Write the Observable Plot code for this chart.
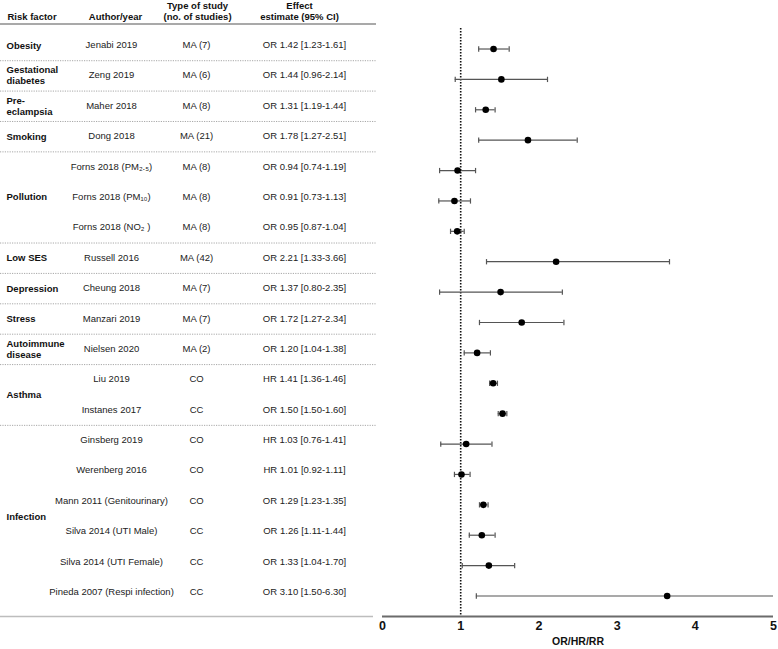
<!DOCTYPE html>
<html>
<head>
<meta charset="utf-8">
<script src="https://cdn.jsdelivr.net/npm/d3@7"></script>
<script src="https://cdn.jsdelivr.net/npm/@observablehq/plot@0.6"></script>
<style>
  html, body { margin: 0; padding: 0; background: #fff; }
  #chart svg { display: block; overflow: visible; }
</style>
</head>
<body>
<div id="chart"></div>
<script>
// ---- data ----
const rowRisk = ["Obesity", "Gestational\ndiabetes", "Pre-\neclampsia", "Smoking",
  "Pollution", "Pollution", "Pollution", "Low SES", "Depression", "Stress",
  "Autoimmune\ndisease", "Asthma", "Asthma",
  "Infection", "Infection", "Infection", "Infection", "Infection", "Infection"];
const rowAuthor = ["Jenabi 2019", "Zeng 2019", "Maher 2018", "Dong 2018",
  "Forns 2018 (PM₂.₅)", "Forns 2018 (PM₁₀)", "Forns 2018 (NO₂ )", "Russell 2016",
  "Cheung 2018", "Manzari 2019", "Nielsen 2020", "Liu 2019", "Instanes 2017",
  "Ginsberg 2019", "Werenberg 2016", "Mann 2011 (Genitourinary)",
  "Silva 2014 (UTI Male)", "Silva 2014 (UTI Female)", "Pineda 2007 (Respi infection)"];
const rowType = ["MA (7)", "MA (6)", "MA (8)", "MA (21)", "MA (8)", "MA (8)", "MA (8)",
  "MA (42)", "MA (7)", "MA (7)", "MA (2)", "CO", "CC", "CO", "CO", "CO", "CC", "CC", "CC"];
const rowEffect = ["OR 1.42 [1.23-1.61]", "OR 1.44 [0.96-2.14]", "OR 1.31 [1.19-1.44]",
  "OR 1.78 [1.27-2.51]", "OR 0.94 [0.74-1.19]", "OR 0.91 [0.73-1.13]", "OR 0.95 [0.87-1.04]",
  "OR 2.21 [1.33-3.66]", "OR 1.37 [0.80-2.35]", "OR 1.72 [1.27-2.34]", "OR 1.20 [1.04-1.38]",
  "HR 1.41 [1.36-1.46]", "OR 1.50 [1.50-1.60]", "HR 1.03 [0.76-1.41]", "HR 1.01 [0.92-1.11]",
  "OR 1.29 [1.23-1.35]", "OR 1.26 [1.11-1.44]", "OR 1.33 [1.04-1.70]", "OR 3.10 [1.50-6.30]"];
// plotted estimates and CI as drawn in the figure
const estimate = [1.42, 1.52, 1.32, 1.86, 0.96, 0.92, 0.955, 2.22, 1.51, 1.78, 1.21,
  1.415, 1.535, 1.07, 1.01, 1.29, 1.27, 1.36, 3.64];
const lower = [1.23, 0.93, 1.19, 1.23, 0.73, 0.72, 0.87, 1.33, 0.73, 1.24, 1.045,
  1.37, 1.48, 0.745, 0.92, 1.24, 1.11, 1.02, 1.20];
const upper = [1.62, 2.11, 1.44, 2.49, 1.19, 1.125, 1.045, 3.67, 2.30, 2.32, 1.38,
  1.47, 1.59, 1.40, 1.12, 1.35, 1.44, 1.69, 6.30];
const xTicks = [0, 1, 2, 3, 4, 5];
const nullValue = [1];
const axisTitle = "OR/HR/RR";
const headers = [
  {text: "Risk factor", col: "risk"},
  {text: "Author/year", col: "author"},
  {text: "Type of study\n(no. of studies)", col: "type"},
  {text: "Effect\nestimate (95% CI)", col: "effect"}
];

// ---- derived tables ----
const rows = rowAuthor.map((a, i) => ({
  i, author: a, type: rowType[i], effect: rowEffect[i],
  est: estimate[i], lo: lower[i], hi: upper[i]
}));
const groups = [];
rowRisk.forEach((r, i) => {
  if (i === 0 || r !== rowRisk[i - 1]) groups.push({label: r, start: i, end: i});
  else groups[groups.length - 1].end = i;
});
const separatorsAfter = groups.slice(0, -1).map(g => g.end);

// ---- layout ----
const W = 778, H = 649;
const mL = 382, mR = 5, mT = 28, mB = 33;
const pad = 0.675;
const n = rows.length;
const font = "Liberation Sans, Arial, Helvetica, sans-serif";
const fs = 9.5;
const tdy = -4;
const colDx = {risk: 6 - mL, author: 111 - mL, type: 196 - mL, effect: 304 - mL};
const headDx = {risk: 7 - mL, author: 115 - mL, type: 197 - mL, effect: 299 - mL};

const capSymbol = {
  draw(ctx, size) {
    const h = Math.sqrt(size) / 2;
    ctx.moveTo(0, -h);
    ctx.lineTo(0, h);
  }
};

function tableRules(index, scales, values, dimensions) {
  const {marginLeft, marginTop, height, marginBottom} = dimensions;
  const g = d3.create("svg:g");
  g.append("line")
    .attr("x1", 0).attr("x2", marginLeft - 6)
    .attr("y1", marginTop - 4).attr("y2", marginTop - 4)
    .attr("stroke", "#8c8c8c").attr("stroke-width", 1.5);
  for (const k of separatorsAfter) {
    const y = scales.y(k + 0.5) - 3;
    g.append("line")
      .attr("x1", 0).attr("x2", marginLeft - 6)
      .attr("y1", y).attr("y2", y)
      .attr("stroke", "#a8a8a8").attr("stroke-width", 1)
      .attr("stroke-dasharray", "1.2,1.2");
  }
  const yb = height - marginBottom + 0.5;
  g.append("line")
    .attr("x1", 0).attr("x2", marginLeft - 9)
    .attr("y1", yb).attr("y2", yb)
    .attr("stroke", "#bdbdbd").attr("stroke-width", 1.6);
  return g.node();
}

const headText = (col, anchor, dy) => Plot.text(headers.filter(d => d.col === col), {
  frameAnchor: "top-left", text: "text", lineAnchor: "middle", lineHeight: 1.15,
  fontWeight: "bold", fontSize: fs, fill: "#111", textAnchor: anchor, dx: headDx[col], dy
});

const chart = Plot.plot({
  width: W,
  height: H,
  marginLeft: mL,
  marginRight: mR,
  marginTop: mT,
  marginBottom: mB,
  style: {fontFamily: font, fontSize: fs + "px", color: "#111", background: "#fff"},
  x: {domain: [0, 5]},
  y: {domain: [-pad, n - 1 + pad], reverse: true, axis: null},
  marks: [
    tableRules,
    // axis line
    Plot.ruleY([n - 1 + pad], {stroke: "#6b6b6b", strokeWidth: 2}),
    Plot.axisX({ticks: xTicks, tickSize: 0, tickPadding: 5, tickFormat: d3.format("d"),
      fontWeight: "bold", fontSize: 12.5, label: null, fill: "#111"}),
    Plot.text([axisTitle], {frameAnchor: "bottom", dy: 28, fontWeight: "bold", fontSize: 10.5, fill: "#111"}),
    // null line
    Plot.ruleX(nullValue, {stroke: "#111", strokeWidth: 1.6, strokeDasharray: "1.4,1.6"}),
    // CI bars
    Plot.ruleY(rows, {y: "i", x1: "lo", x2: "hi", stroke: "#555", strokeWidth: 1.2, clip: true}),
    Plot.dot(rows, {x: "lo", y: "i", symbol: capSymbol, r: 3, fill: "none", stroke: "#555", strokeWidth: 1.2, clip: true}),
    Plot.dot(rows, {x: "hi", y: "i", symbol: capSymbol, r: 3, fill: "none", stroke: "#555", strokeWidth: 1.2, clip: true}),
    Plot.dot(rows, {x: "est", y: "i", r: 3.3, fill: "#000", stroke: "none"}),
    // table header
    headText("risk", "start", -12),
    headText("author", "middle", -12),
    headText("type", "middle", -17.5),
    headText("effect", "middle", -17.5),
    // table body
    Plot.text(groups, {y: d => (d.start + d.end) / 2, text: "label", frameAnchor: "left",
      textAnchor: "start", dx: colDx.risk, dy: tdy, fontWeight: "bold", fontSize: fs, fill: "#111", lineHeight: 1.15}),
    Plot.text(rows, {y: "i", text: "author", frameAnchor: "left", textAnchor: "middle",
      dx: colDx.author, dy: tdy, fontSize: fs, fill: "#222"}),
    Plot.text(rows, {y: "i", text: "type", frameAnchor: "left", textAnchor: "middle",
      dx: colDx.type, dy: tdy, fontSize: fs, fill: "#222"}),
    Plot.text(rows, {y: "i", text: "effect", frameAnchor: "left", textAnchor: "middle",
      dx: colDx.effect, dy: tdy, fontSize: fs, fill: "#222"})
  ]
});
document.getElementById("chart").appendChild(chart);
</script>
</body>
</html>
